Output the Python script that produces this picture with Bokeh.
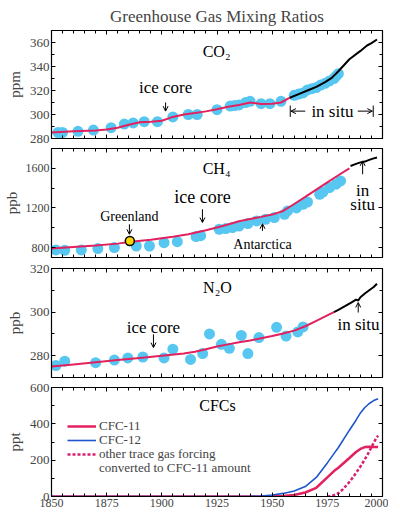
from bokeh.plotting import figure
from bokeh.layouts import column
from bokeh.models import (LinearAxis, Label, Arrow, OpenHead, Legend, LegendItem,
                          FixedTicker, Range1d)
from bokeh.embed import file_html
from bokeh.resources import INLINE

# ---------------- data ----------------
co2_core_years = [1853, 1855, 1862, 1869, 1877, 1883, 1887, 1892, 1898, 1905, 1912, 1916,
                  1925, 1931, 1933, 1935, 1938, 1940, 1945, 1949, 1954, 1960, 1962, 1964,
                  1966, 1968, 1970, 1972, 1974, 1976, 1978, 1979, 1980]
co2_core_vals = [285, 285, 286, 287, 289, 292, 293, 294, 294, 298, 300, 300,
                 304, 307, 307.5, 308, 310, 311, 309, 309, 311, 316, 317, 318,
                 320.5, 321.5, 322.5, 324.5, 326, 328, 330, 332, 334]
co2_fit_years = [1850, 1860, 1870, 1875, 1880, 1885, 1890, 1895, 1900, 1905, 1910, 1915,
                 1920, 1925, 1930, 1935, 1940, 1945, 1950, 1954, 1958]
co2_fit_vals = [285, 286, 286.7, 287.5, 289, 291.5, 293.5, 294, 294.8, 298, 300, 301.2,
                302.6, 304.4, 306.5, 308, 310, 308.8, 309, 310, 314]
co2_situ_years = [1958, 1962, 1966, 1970, 1974, 1977, 1980, 1985, 1990, 1993, 1995, 1997.5]
co2_situ_vals = [314, 317, 320, 323, 327, 330.5, 336, 346, 353, 357.5, 359.5, 362.5]

ch4_core_years = [1852, 1856, 1863.5, 1871, 1878.5, 1888.4, 1894.4, 1901, 1907, 1915.5, 1917.6,
                  1926, 1929, 1932, 1935, 1939, 1943, 1947, 1951, 1955.6, 1957, 1961, 1964,
                  1966, 1971.5, 1973, 1976, 1979, 1981]
ch4_core_vals = [776, 773, 776, 790, 800, 816, 816, 850, 860, 911, 920,
                 985, 992, 1002, 1018, 1042, 1069, 1086, 1103, 1136, 1170, 1200, 1237,
                 1260, 1338, 1360, 1406, 1440, 1473]
ch4_greenland_year = [1885.5]
ch4_greenland_val = [867]
ch4_fit_years = [1850, 1860, 1870, 1880, 1886, 1895, 1905, 1912, 1920, 1928, 1935, 1940,
                 1945, 1950, 1955, 1960, 1965, 1970, 1975, 1980, 1985]
ch4_fit_vals = [790, 805, 820, 840, 858, 880, 910, 935, 975, 1020, 1065, 1088,
                1110, 1133, 1170, 1240, 1312, 1385, 1458, 1530, 1600]
ch4_situ_years = [1985.5, 1988, 1990, 1992, 1994, 1996, 1997.5]
ch4_situ_vals = [1624, 1645, 1660, 1668, 1685, 1700, 1709]

n2o_core_years = [1852, 1856, 1870, 1878.5, 1884.6, 1891.4, 1901, 1905, 1913, 1918.5, 1921.6,
                  1927, 1930.6, 1936, 1939, 1944, 1952, 1956.3, 1961.6, 1964]
n2o_core_vals = [275.5, 277.5, 276.8, 278, 279, 279.4, 279, 283, 278.3, 281, 290,
                 285.2, 283.4, 289.3, 281, 288.3, 293, 289, 290.9, 293.2]
n2o_fit_years = [1850, 1860, 1870, 1880, 1890, 1900, 1910, 1915, 1920, 1925, 1930, 1935,
                 1940, 1945, 1950, 1955, 1960, 1965, 1970, 1975, 1978]
n2o_fit_vals = [275, 276, 277, 278, 279, 280, 281, 281.8, 283, 284.2, 285.2, 286.2,
                287, 288, 289, 290.2, 291.5, 293.5, 296, 298.5, 300]
n2o_situ_years = [1978, 1980, 1983, 1986, 1988, 1989, 1990, 1992, 1994, 1996, 1997.5]
n2o_situ_vals = [300, 301, 302.7, 304.5, 305.7, 305.3, 306.8, 308.5, 310, 311.5, 313]

cfc_years = [1850, 1930, 1940, 1945, 1950, 1955, 1960, 1965, 1970, 1975, 1978, 1980,
             1985, 1988, 1990, 1992, 1994, 1996, 1998]
cfc11_vals = [0, 0, 0, 0, 1, 3, 8, 22, 48, 105, 140, 158,
              212, 245, 262, 272, 274, 272, 272]
cfc12_vals = [0, 0, 1, 3, 8, 17, 30, 55, 105, 185, 236, 270,
              365, 420, 460, 490, 512, 528, 538]
other_years = [1975, 1977, 1980, 1982, 1985, 1987, 1990, 1993, 1995, 1997, 1998]
other_vals = [0, 2, 18, 39, 80, 112, 165, 225, 272, 318, 335]

legend_labels = ["CFC-11", "CFC-12", "other trace gas forcing", "converted to CFC-11 amount"]

x_major = [1850, 1875, 1900, 1925, 1950, 1975, 2000]
x_minor = list(range(1850, 2001, 5))
co2_ticks = [280, 300, 320, 340, 360]
ch4_ticks = [800, 1200, 1600]
n2o_ticks = [280, 300, 320]
cfc_ticks = [0, 200, 400, 600]

# ---------------- style ----------------
FONT = "Liberation Serif"
DOT = "#57C7F1"
RED = "#E2215E"
BLUE = "#1F56CC"
MAG = "#D6206F"


def style_axis(ax, labels, size="13px"):
    ax.major_tick_in = 4
    ax.major_tick_out = 0
    ax.minor_tick_in = 3
    ax.minor_tick_out = 0
    ax.axis_line_color = "black"
    ax.axis_line_width = 1.2
    ax.major_tick_line_width = 1
    ax.minor_tick_line_width = 1
    ax.major_label_text_font = FONT
    if labels:
        ax.major_label_text_font_size = size
        ax.major_label_standoff = 2
    else:
        ax.major_label_text_font_size = "0px"
        ax.major_label_standoff = 0


def make_fig(yr, yticks, yminor, ylabel, frame_h, top, bottom, xlabels, ysize="13px",
             label_standoff=4):
    p = figure(frame_width=331, frame_height=frame_h,
               x_range=Range1d(1850, 2000), y_range=Range1d(*yr),
               output_backend="svg", toolbar_location=None,
               min_border_left=44, min_border_right=9,
               min_border_top=top, min_border_bottom=bottom)
    p.xgrid.visible = False
    p.ygrid.visible = False
    p.outline_line_color = None
    p.background_fill_color = "white"
    p.border_fill_color = "white"
    xt = FixedTicker(ticks=x_major, minor_ticks=x_minor)
    yt = FixedTicker(ticks=yticks, minor_ticks=yminor)
    xb = p.below[0]
    xb.ticker = xt
    style_axis(xb, xlabels, "12px")
    yl = p.left[0]
    yl.ticker = yt
    style_axis(yl, True, ysize)
    yl.axis_label = ylabel
    yl.axis_label_text_font = FONT
    yl.axis_label_text_font_size = "15px"
    yl.axis_label_text_font_style = "normal"
    yl.axis_label_standoff = label_standoff
    xa = LinearAxis(ticker=FixedTicker(ticks=x_major, minor_ticks=x_minor))
    style_axis(xa, False)
    p.add_layout(xa, "above")
    yr_ax = LinearAxis(ticker=FixedTicker(ticks=yticks, minor_ticks=yminor))
    style_axis(yr_ax, False)
    p.add_layout(yr_ax, "right")
    return p


def lab(p, x, y, text, size="17px", align="center"):
    p.add_layout(Label(x=x, y=y, text=text, text_font=FONT, text_font_size=size,
                       text_align=align, text_baseline="middle", text_color="black"))


def arr(p, x0, y0, x1, y1, size=5):
    p.add_layout(Arrow(end=OpenHead(size=size, line_width=1, line_color="black"),
                       x_start=x0, y_start=y0, x_end=x1, y_end=y1,
                       line_width=1, line_color="black"))


# ---------------- CO2 ----------------
p1 = make_fig((280, 370), co2_ticks, list(range(280, 371, 10)), "ppm", 108, 30, 7, False)
p1.title.text = "Greenhouse Gas Mixing Ratios"
p1.title.text_font = FONT
p1.title.text_font_size = "17px"
p1.title.text_font_style = "normal"
p1.title.align = "center"
p1.title.standoff = 9
p1.scatter(co2_core_years, co2_core_vals, size=11, fill_color=DOT, line_color=None)
p1.line(co2_fit_years, co2_fit_vals, line_color=RED, line_width=2)
p1.line(co2_situ_years, co2_situ_vals, line_color="black", line_width=2)
lab(p1, 1924.8, 352.5, "CO₂", "16px")
lab(p1, 1901.7, 322.5, "ice core")
arr(p1, 1901.7, 310, 1901.7, 302.8)
lab(p1, 1977.3, 302.8, "in situ")
arr(p1, 1965, 302.8, 1958.5, 302.8)
arr(p1, 1988.8, 302.8, 1995.4, 302.8)
p1.segment(x0=[1958.2, 1995.8], y0=[298, 298], x1=[1958.2, 1995.8], y1=[307.5, 307.5],
           line_color="black", line_width=1)

# ---------------- CH4 ----------------
p2 = make_fig((700, 1800), ch4_ticks, list(range(800, 1801, 200)), "ppb", 109, 3, 3, False,
              ysize="12px", label_standoff=3)
p2.scatter(ch4_core_years, ch4_core_vals, size=11, fill_color=DOT, line_color=None)
p2.line(ch4_fit_years, ch4_fit_vals, line_color=RED, line_width=2)
p2.line(ch4_situ_years, ch4_situ_vals, line_color="black", line_width=2)
p2.scatter(ch4_greenland_year, ch4_greenland_val, size=9, fill_color="#FFD700",
           line_color="black", line_width=1.5)
lab(p2, 1924.8, 1601, "CH₄", "16px")
lab(p2, 1918.4, 1310, "ice core", "18px")
arr(p2, 1918.4, 1187, 1918.4, 1053)
lab(p2, 1885.3, 1110, "Greenland", "14px")
arr(p2, 1885.3, 1035, 1885.3, 934)
lab(p2, 1945.6, 833, "Antarctica", "14px")
arr(p2, 1945.6, 968, 1945.6, 1040)
lab(p2, 1991, 1372, "in")
lab(p2, 1991, 1237, "situ")
arr(p2, 1991, 1540, 1991, 1675)

# ---------------- N2O ----------------
p3 = make_fig((270, 320), n2o_ticks, list(range(270, 321, 10)), "ppb", 109, 8, 3, False)
p3.scatter(n2o_core_years, n2o_core_vals, size=11, fill_color=DOT, line_color=None)
p3.line(n2o_fit_years, n2o_fit_vals, line_color=RED, line_width=2)
p3.line(n2o_situ_years, n2o_situ_vals, line_color="black", line_width=2)
lab(p3, 1925.2, 311.5, "N₂O", "16px")
lab(p3, 1896.2, 293, "ice core")
arr(p3, 1896.2, 289.8, 1896.2, 283.7)
lab(p3, 1989.1, 294.4, "in situ")
arr(p3, 1989, 299.8, 1989, 304.4)

# ---------------- CFCs ----------------
p4 = make_fig((0, 600), cfc_ticks, list(range(0, 601, 100)), "ppt", 109, 7, 14, True)
r11 = p4.line(cfc_years, cfc11_vals, line_color=RED, line_width=2.5)
r12 = p4.line(cfc_years, cfc12_vals, line_color=BLUE, line_width=1.6)
ro = p4.line(other_years, other_vals, line_color=MAG, line_width=2.5, line_dash="3 2")
rblank = p4.line([1850, 1851], [0, 0], line_alpha=0)
lab(p4, 1925.2, 500, "CFCs", "16px")

legend_renderers = [r11, r12, ro, rblank]
legend_offsets = [62, 48, 34, 20]
for text, rend, off in zip(legend_labels, legend_renderers, legend_offsets):
    lg = Legend(items=[LegendItem(label=text, renderers=[rend])],
                location=(16, off), border_line_color=None, background_fill_alpha=0,
                label_text_font=FONT, label_text_font_size="13px",
                glyph_width=29, glyph_height=12, label_height=12, label_standoff=3,
                spacing=0, padding=0, margin=0)
    p4.add_layout(lg)

layout = column(p1, p2, p3, p4, spacing=0)
open("out.html", "w").write(file_html(layout, INLINE))
